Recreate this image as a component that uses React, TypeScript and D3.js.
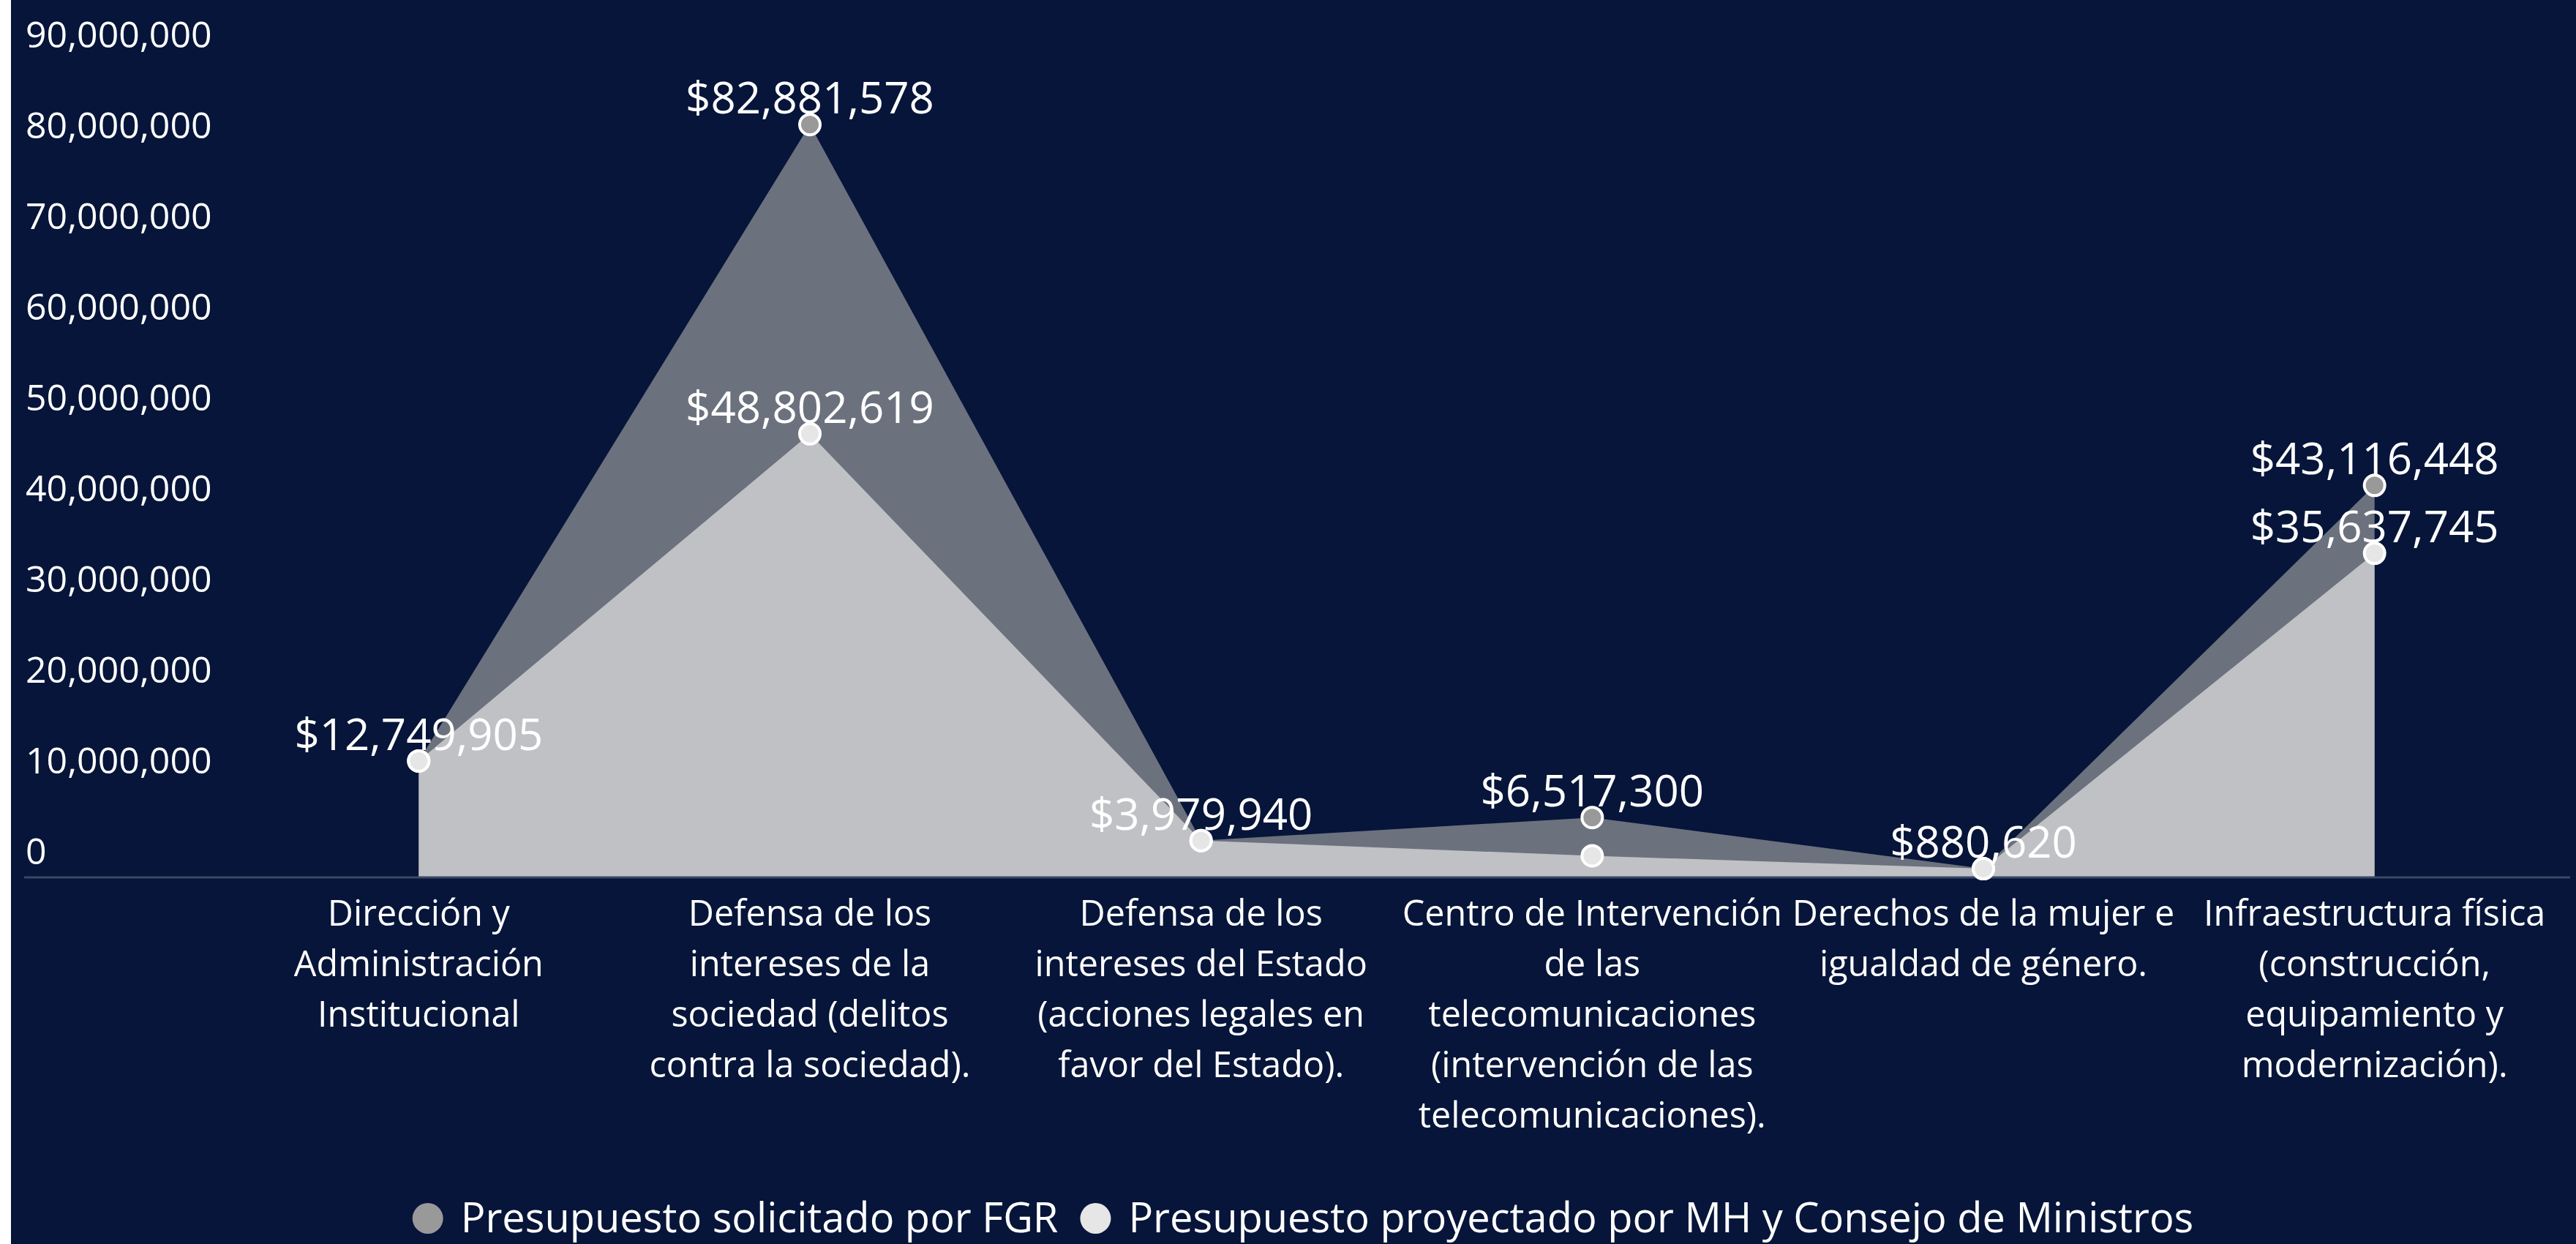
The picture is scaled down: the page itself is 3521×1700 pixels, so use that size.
import React, { useRef, useEffect } from "react";
import * as d3 from "d3";

// categories (line breaks as in the original axis)
const categoryLines = [
  ["Dirección y", "Administración", "Institucional"],
  ["Defensa de los", "intereses de la", "sociedad (delitos", "contra la sociedad)."],
  ["Defensa de los", "intereses del Estado", "(acciones legales en", "favor del Estado)."],
  ["Centro de Intervención", "de las", "telecomunicaciones", "(intervención de las", "telecomunicaciones)."],
  ["Derechos de la mujer e", "igualdad de género."],
  ["Infraestructura física", "(construcción,", "equipamiento y", "modernización)."],
];

const solicitadoFGR = [12749905, 82881578, 3979940, 6517300, 880620, 43116448];
const proyectadoMH = [12749905, 48802619, 3979940, 2300000, 880620, 35637745];

const yTicks = [0, 10000000, 20000000, 30000000, 40000000, 50000000, 60000000, 70000000, 80000000, 90000000];

const seriesNames = ["Presupuesto solicitado por FGR", "Presupuesto proyectado por MH y Consejo de Ministros"];
const dotColors = ["#999999", "#e6e6e6"];
const areaColors = ["#6c717e", "#c0c1c5"];

const W = 3521;
const H = 1700;
const FONT = "'Open Sans', sans-serif";

export default function App() {
  const svgRef = useRef(null);

  useEffect(() => {
    const svg = d3.select(svgRef.current);
    svg.selectAll("*").remove();

    svg.append("rect").attr("width", W).attr("height", H).attr("fill", "#ffffff");
    svg.append("rect").attr("x", 15).attr("width", W - 15).attr("height", H).attr("fill", "#061539");

    const x = d3.scalePoint().domain(d3.range(categoryLines.length)).range([305, 3513]).padding(0.5);
    const y = d3.scaleLinear().domain([0, 90000000]).range([1198, 82]);
    const fmt = d3.format(",");

    // y axis labels
    svg.append("g")
      .selectAll("text")
      .data(yTicks)
      .join("text")
      .attr("x", 35)
      .attr("y", d => y(d) - 17)
      .attr("fill", "#ffffff")
      .attr("font-family", FONT)
      .attr("font-size", 50)
      .text(d => fmt(d));

    const series = [solicitadoFGR, proyectadoMH];

    series.forEach((vals, s) => {
      const area = d3.area()
        .x((d, i) => x(i))
        .y0(y(0))
        .y1(d => y(d));
      svg.append("path")
        .datum(vals)
        .attr("d", area)
        .attr("fill", areaColors[s]);
    });

    // baseline
    svg.append("line")
      .attr("x1", 33).attr("x2", 3513)
      .attr("y1", y(0) + 1).attr("y2", y(0) + 1)
      .attr("stroke", "#3b4866")
      .attr("stroke-width", 3);

    series.forEach((vals, s) => {
      svg.append("g")
        .selectAll("circle")
        .data(vals)
        .join("circle")
        .attr("cx", (d, i) => x(i))
        .attr("cy", d => y(d))
        .attr("r", 14)
        .attr("fill", dotColors[s])
        .attr("stroke", "#ffffff")
        .attr("stroke-width", 4);
    });

    // data labels: MH label hidden where it would collide with the FGR one
    const labels = [];
    solicitadoFGR.forEach((v, i) => labels.push({ i, v }));
    proyectadoMH.forEach((v, i) => {
      if (Math.abs(y(v) - y(solicitadoFGR[i])) > 80) labels.push({ i, v });
    });
    svg.append("g")
      .selectAll("text")
      .data(labels)
      .join("text")
      .attr("x", d => x(d.i))
      .attr("y", d => y(d.v) - 15)
      .attr("text-anchor", "middle")
      .attr("fill", "#ffffff")
      .attr("font-family", FONT)
      .attr("font-size", 60)
      .text(d => "$" + fmt(d.v));

    // category labels
    const cat = svg.append("g")
      .selectAll("text")
      .data(categoryLines)
      .join("text")
      .attr("text-anchor", "middle")
      .attr("fill", "#ffffff")
      .attr("font-family", FONT)
      .attr("font-size", 48.5);
    cat.selectAll("tspan")
      .data((d, i) => d.map(line => ({ line, i })))
      .join("tspan")
      .attr("x", d => x(d.i))
      .attr("y", (d, j) => 1265 + j * 69)
      .text(d => d.line);

    // legend
    const legend = svg.append("g");
    const items = seriesNames.map((name, s) => {
      const g = legend.append("g");
      g.append("circle").attr("r", 21).attr("cx", 21).attr("cy", 1665).attr("fill", dotColors[s]);
      const t = g.append("text")
        .attr("x", 66)
        .attr("y", 1684)
        .attr("fill", "#ffffff")
        .attr("font-family", FONT)
        .attr("font-size", 56)
        .text(name);
      const w = 66 + t.node().getComputedTextLength();
      return { g, w };
    });
    const gap = 30;
    const total = d3.sum(items, d => d.w) + gap * (items.length - 1);
    let cx = 1781 - total / 2;
    items.forEach(it => {
      it.g.attr("transform", `translate(${cx},0)`);
      cx += it.w + gap;
    });
  }, []);

  return (
    <div style={{ position: "absolute", left: 0, top: 0 }}>
      <svg ref={svgRef} width={W} height={H} style={{ display: "block" }}></svg>
    </div>
  );
}
